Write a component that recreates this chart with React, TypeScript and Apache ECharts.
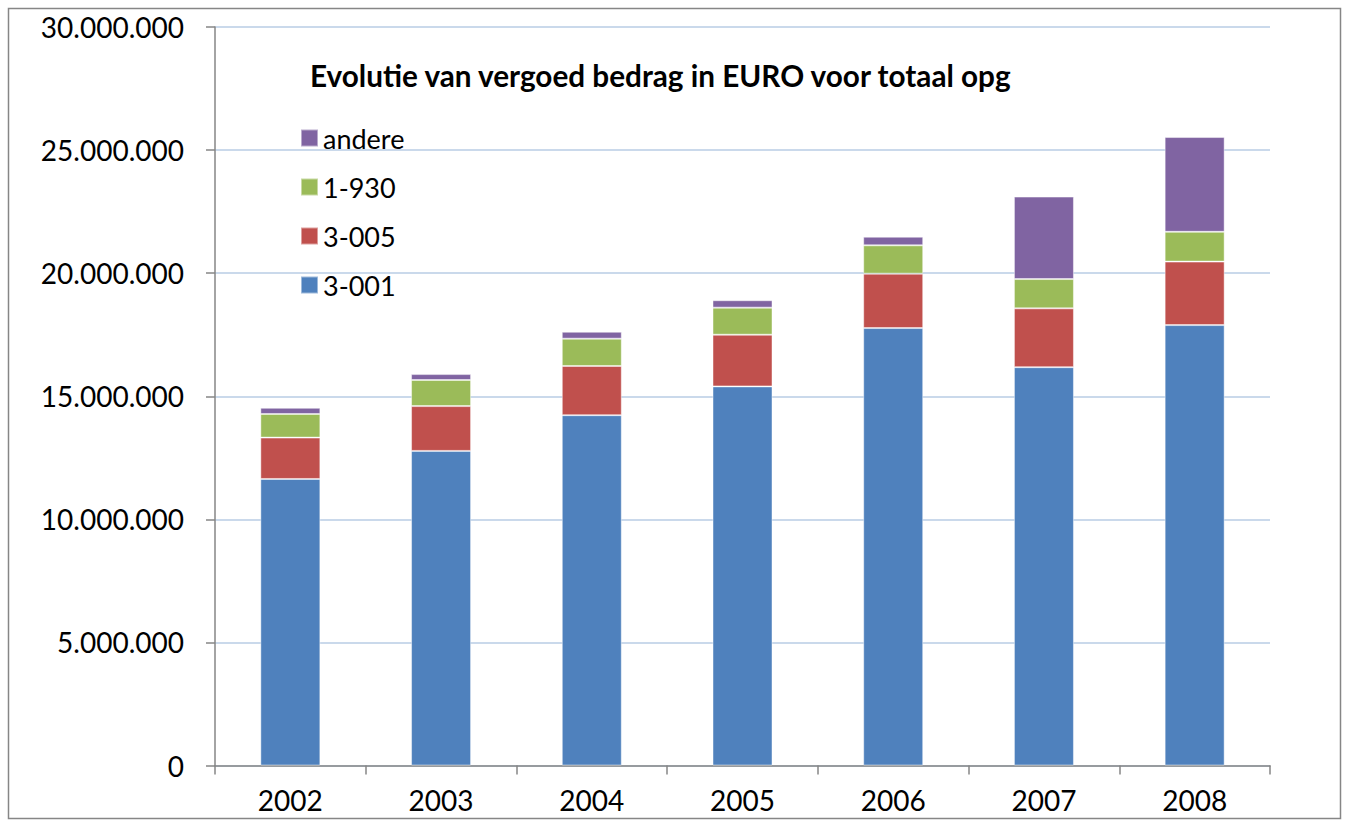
import React, { useEffect, useRef } from "react";
import * as echarts from "echarts";

const years = ["2002", "2003", "2004", "2005", "2006", "2007", "2008"];
const s3001 = [11640000, 12780000, 14230000, 15400000, 17770000, 16180000, 17890000];
const s3005 = [1680000, 1820000, 2000000, 2100000, 2210000, 2390000, 2580000];
const s1930 = [960000, 1060000, 1110000, 1100000, 1150000, 1190000, 1210000];
const sAndere = [250000, 240000, 280000, 300000, 350000, 3350000, 3850000];
const legendOrder = ["andere", "1-930", "3-005", "3-001"];
const titleText = "Evolutie van vergoed bedrag in EURO voor totaal opg";

const FONT = "Lato, 'Open Sans', sans-serif";

function fmt(v: number) {
  return String(Math.round(v)).replace(/\B(?=(\d{3})+(?!\d))/g, ".");
}

export default function App() {
  const ref = useRef<HTMLDivElement>(null);
  useEffect(() => {
    document.body.style.margin = "0";
    const chart = echarts.init(ref.current!, null, { renderer: "svg" });
    const barStyle = (color: string) => ({
      color,
      borderColor: "rgba(255,255,255,0.45)",
      borderWidth: 1,
    });
    const mk = (name: string, data: number[], color: string) => ({
      name,
      type: "bar",
      stack: "total",
      data,
      barWidth: 60,
      itemStyle: barStyle(color),
    });
    chart.setOption({
      animation: false,
      textStyle: { fontFamily: FONT },
      grid: { left: 215, right: 79, top: 27, bottom: 55.5 },
      graphic: [
        {
          type: "rect",
          shape: { x: 8.5, y: 8.5, width: 1332, height: 810 },
          style: { fill: "none", stroke: "#868686", lineWidth: 1.5 },
          silent: true,
        },
        {
          type: "text",
          left: 310,
          top: 60,
          style: {
            text: titleText,
            fontFamily: FONT,
            fontWeight: "bold",
            fontSize: 29.7,
            fill: "#000",
          },
          z: 10,
        },
      ],
      legend: {
        data: legendOrder,
        orient: "vertical",
        left: 295,
        top: 119,
        itemWidth: 17,
        itemHeight: 17,
        itemGap: 21,
        icon: "rect",
        textStyle: { fontSize: 27, lineHeight: 28, color: "#000", fontFamily: FONT },
      },
      xAxis: {
        type: "category",
        data: years,
        axisLine: { lineStyle: { color: "#868686", width: 1.5 } },
        axisTick: { show: true, length: 9, alignWithLabel: false, lineStyle: { color: "#868686", width: 1.5 } },
        axisLabel: { fontSize: 28, color: "#000", margin: 20, fontFamily: FONT },
      },
      yAxis: {
        type: "value",
        min: 0,
        max: 30000000,
        interval: 5000000,
        axisLine: { show: true, lineStyle: { color: "#868686", width: 1.5 } },
        axisTick: { show: true, length: 9, lineStyle: { color: "#868686", width: 1.5 } },
        axisLabel: { fontSize: 28, color: "#000", margin: 31, fontFamily: FONT, formatter: (v: number) => fmt(v) },
        splitLine: { lineStyle: { color: "#b9cde5", width: 1.5 } },
      },
      series: [
        mk("3-001", s3001, "#4f81bd"),
        mk("3-005", s3005, "#c0504d"),
        mk("1-930", s1930, "#9bbb59"),
        mk("andere", sAndere, "#8064a2"),
      ],
    });
    return () => chart.dispose();
  }, []);
  return <div ref={ref} style={{ width: 1349, height: 821 }} />;
}
